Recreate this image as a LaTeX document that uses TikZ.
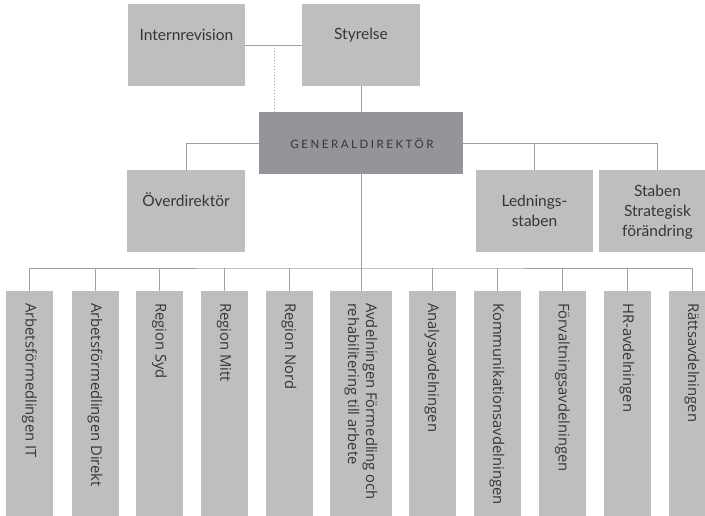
\documentclass[tikz,border=0pt]{standalone}
\usepackage{fontspec}
\setmainfont{Lato}
\newfontfamily\botfont{Open Sans}
\usetikzlibrary{calc}
\definecolor{boxgray}{HTML}{BDBEC0}
\definecolor{gdgray}{HTML}{939598}
\definecolor{linegray}{HTML}{A0A0A0}
\definecolor{txtgray}{HTML}{363636}
\begin{document}
\begin{tikzpicture}[x=1pt,y=-1pt,
  box/.style={fill=boxgray, draw=none, inner sep=0pt},
  gdbox/.style={fill=gdgray, draw=none, inner sep=0pt},
  bbox/.style={box, anchor=north, minimum width=47pt, minimum height=229pt},
  conn/.style={draw=linegray, line width=0.8pt},
  dotconn/.style={draw=linegray, line width=0.6pt, dash pattern=on 1.5pt off 1.5pt},
  txt/.style={text=txtgray, font=\fontsize{15.5}{20}\selectfont, align=center, inner sep=0pt},
  gdtxt/.style={text=txtgray, font=\fontsize{11.5}{13}\selectfont\addfontfeatures{LetterSpace=22}, inner sep=0pt},
  vtxt/.style={text=txtgray, font=\botfont\fontsize{14.8}{18}\selectfont, align=left, rotate=-90, anchor=west, inner sep=0pt}]
\useasboundingbox (0,0) rectangle (705,516);
\clip (0,0) rectangle (705,516);
\fill[white] (0,0) rectangle (705,516);

% boxes
\node[box, minimum width=117pt, minimum height=82pt] (intern) at (186.5,45) {};
\node[box, minimum width=118pt, minimum height=82pt] (styr) at (361,45) {};
\node[gdbox, minimum width=204pt, minimum height=62pt] (gd) at (361,143) {};
\node[box, minimum width=118pt, minimum height=82pt] (over) at (186,211) {};
\node[box, minimum width=117pt, minimum height=82pt] (led) at (534.5,211) {};
\node[box, minimum width=117pt, minimum height=82pt] (stab) at (657.5,211) {};

\node[bbox] (b1) at (29.5,291) {};
\node[bbox] (b2) at (95,291) {};
\node[bbox] (b3) at (159.5,291) {};
\node[bbox] (b4) at (224,291) {};
\node[bbox] (b5) at (289,291) {};
\node[bbox, minimum width=62pt] (b6) at (361,291) {};
\node[bbox] (b7) at (432,291) {};
\node[bbox] (b8) at (497,291) {};
\node[bbox] (b9) at (562.5,291) {};
\node[bbox] (b10) at (627,291) {};
\node[bbox] (b11) at (692,291) {};

% texts
\node[txt] (tintern) at ($(intern.north)+(0,31)$) {Internrevision};
\node[txt] (tstyr) at ($(styr.north)+(0,31)$) {Styrelse};
\node[gdtxt] (tgd) at ($(gd.center)+(1,0)$) {GENERALDIREKTÖR};
\node[txt] (tover) at ($(over.north)+(0,30)$) {Överdirektör};
\node[txt] (tled) at (led.center) {Lednings-\\staben};
\node[txt] (tstab) at ($(stab.center)+(0,1)$) {Staben\\Strategisk\\förändring};

\node[vtxt] (t1) at ($(b1.north)+(0,12)$) {Arbetsförmedlingen IT};
\node[vtxt] (t2) at ($(b2.north)+(0,12)$) {Arbetsförmedlingen Direkt};
\node[vtxt] (t3) at ($(b3.north)+(0,12)$) {Region Syd};
\node[vtxt] (t4) at ($(b4.north)+(0,12)$) {Region Mitt};
\node[vtxt] (t5) at ($(b5.north)+(0,12)$) {Region Nord};
\node[vtxt] (t6) at ($(b6.north)+(0,12)$) {Avdelningen Förmedling och\\rehabilitering till arbete};
\node[vtxt] (t7) at ($(b7.north)+(0,12)$) {Analysavdelningen};
\node[vtxt] (t8) at ($(b8.north)+(0,12)$) {Kommunikationsavdelningen};
\node[vtxt] (t9) at ($(b9.north)+(0,12)$) {Förvaltningsavdelningen};
\node[vtxt] (t10) at ($(b10.north)+(0,12)$) {HR-avdelningen};
\node[vtxt] (t11) at ($(b11.north)+(0,12)$) {Rättsavdelningen};

% connectors
\draw[conn] (intern) -- (styr);
\coordinate (dt) at (274,45);
\draw[dotconn] (dt) -- (dt |- gd.north);
\draw[conn] (styr) -- (gd);
\draw[conn] (gd.west) -| (over.north);
\draw[conn] (gd.east) -| (stab.north);
\draw[conn] (led.north) -- (led.north |- gd.east);
\coordinate (bus) at (361,268);
\draw[conn] (gd.south) -- (b6.north);
\draw[conn] (b1.north) |- (bus) -| (b11.north);
\foreach \i in {2,3,4,5,7,8,9,10} \draw[conn] (b\i.north) -- (b\i.north |- bus);
\end{tikzpicture}
\end{document}
